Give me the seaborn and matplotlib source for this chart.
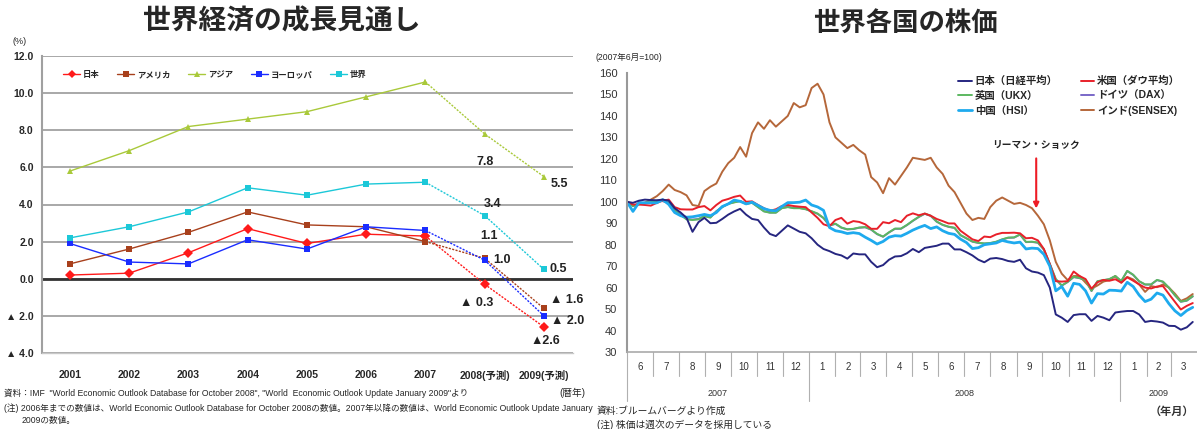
import matplotlib
matplotlib.use("Agg")
import matplotlib.pyplot as plt
import matplotlib.dates as mdates
import matplotlib.transforms as mtransforms
from matplotlib.lines import Line2D
import seaborn as sns
import pandas as pd
import numpy as np

sns.set_style("white")
plt.rcParams['font.family'] = ['Liberation Sans', 'Noto Sans CJK JP', 'DejaVu Sans']

W, H = 1197, 429

# ---- left: growth outlook ----
years = ["2001", "2002", "2003", "2004", "2005", "2006", "2007", "2008(予測)", "2009(予測)"]
regions = ["日本", "アメリカ", "アジア", "ヨーロッパ", "世界"]
japan = [0.2, 0.3, 1.4, 2.7, 1.9, 2.4, 2.3, -0.3, -2.6]
usa = [0.8, 1.6, 2.5, 3.6, 2.9, 2.8, 2.0, 1.1, -1.6]
asia = [5.8, 6.9, 8.2, 8.6, 9.0, 9.8, 10.6, 7.8, 5.5]
europe = [1.9, 0.9, 0.8, 2.1, 1.6, 2.8, 2.6, 1.0, -2.0]
world = [2.2, 2.8, 3.6, 4.9, 4.5, 5.1, 5.2, 3.4, 0.5]
region_colors = ["#ff1a1a", "#a8401c", "#a9c93a", "#1a2cff", "#1cc8d8"]
region_markers = ["D", "s", "^", "s", "s"]
forecast_labels = ["7.8", "3.4", "1.1", "1.0", "▲ 0.3", "5.5", "0.5", "▲ 1.6", "▲ 2.0", "▲2.6"]
label_x = [7.0, 7.13, 7.08, 7.30, 6.86, 8.26, 8.24, 8.38, 8.40, 8.03]
label_y = [6.31, 4.03, 2.28, 1.0, -1.31, 5.13, 0.51, -1.15, -2.28, -3.36]
y_ticks = [12, 10, 8, 6, 4, 2, 0, -2, -4]
y_tick_labels = ["12.0", "10.0", "8.0", "6.0", "4.0", "2.0", "0.0", "▲ 2.0", "▲ 4.0"]

# ---- right: stock prices (2007/6 = 100, weekly) ----
weeks = pd.date_range("2007-06-01", periods=96, freq="7D")
nikkei = [100, 99.5, 100.5, 101, 100.8, 100.7, 101, 100.5, 97, 95, 92.5, 86, 90.5, 92.5, 90, 90.2,
          92, 94, 95.5, 96.7, 94, 92, 91.5, 88, 85, 84, 86.5, 89, 87.5, 86, 85.3, 83,
          80, 78, 77, 75.7, 75, 73.5, 75.9, 75.5, 75.5, 72, 69.5, 70.5, 73, 74.5, 74.7, 76,
          78, 76.5, 78.5, 79, 79.5, 80.5, 80.5, 77.8, 77.8, 76.5, 75, 73, 71.8, 73.5, 73.8, 73.3,
          72.4, 72, 73, 69, 67.5, 67, 65.8, 60, 47.5, 46, 44, 47.2, 47.6, 47.6, 44.5, 46.8,
          46, 44.8, 48.4, 48.8, 49.1, 49.1, 47.5, 44, 44.5, 44.2, 43.7, 42.2, 42.1, 40.4, 41.5, 44]
dow = [100, 98.7, 98.7, 98.5, 98.2, 99.5, 100.5, 101, 97.5, 96.5, 96.4, 96.4, 97.5, 98, 96, 98.5,
       100.5, 101.3, 102.3, 102.9, 100, 100.2, 98.5, 97, 95.8, 96.5, 98, 98.5, 98, 97.7, 97.5, 95,
       92.5, 89.5, 88.6, 91.5, 92.5, 89.8, 91, 90.6, 89.5, 87.4, 87.4, 90.5, 90, 91.5, 90.5, 93.5,
       94.6, 93.7, 94.5, 93.5, 92, 91, 89.9, 89.9, 86.5, 84.5, 82.5, 81.7, 83.8, 83.5, 84.8, 85.5,
       85.5, 85.6, 85.3, 83, 83.2, 82, 78, 71, 63, 62.8, 63, 67.5, 65.4, 64, 59.5, 62.5,
       63.6, 63.2, 63.9, 62.3, 64.8, 63.2, 61.5, 60, 59.6, 60.5, 60.7, 57, 53.4, 49.8, 51.5, 52.8]
ukx = [100, 98, 99, 99.5, 99.8, 100.5, 100.5, 99.5, 96, 93.8, 91.8, 91.5, 91.8, 93.3, 92.6, 95.5,
       97.5, 99, 99.7, 100.3, 99, 99.5, 97.5, 95.5, 94.9, 94.9, 97, 97.5, 97, 97, 96.5, 95.6,
       94.5, 92.5, 89, 89.8, 88, 87.2, 87.4, 88, 88.2, 87.1, 85, 83.8, 85.8, 87.5, 87.5, 89.2,
       91.2, 93, 94.5, 93.5, 90.8, 89.3, 88.4, 87.9, 84.5, 83, 81.5, 80.9, 80.6, 80.8, 81.4, 82.5,
       83.3, 83.4, 84.8, 81.3, 81.4, 81, 77.8, 71, 64, 61, 62.7, 65, 64.5, 63.5, 58.5, 63,
       63.5, 64, 65.4, 63.1, 67.8, 66, 63, 61.5, 61.5, 63.6, 62.8, 60, 56.5, 53.5, 54, 56]
dax = [100, 98.2, 99.2, 99.6, 100, 100.4, 100.3, 99.3, 96.2, 94, 92, 91.7, 92, 93.4, 92.8, 95.6,
       97.6, 99.1, 99.8, 100.4, 99.1, 99.6, 97.6, 95.6, 95, 95, 97.1, 97.6, 97.1, 97.1, 96.6, 95.5,
       94.4, 92.4, 88.9, 89.7, 87.9, 87.1, 87.3, 87.9, 88.1, 87, 84.9, 83.7, 85.7, 87.4, 87.4, 89.1,
       91.1, 92.9, 94.4, 93.4, 90.7, 89.2, 88.3, 87.8, 84.4, 82.9, 81.4, 80.8, 80.5, 80.7, 81.3, 82.4,
       83.2, 83.3, 84.7, 81.2, 81.3, 80.9, 77.7, 70.9, 63.9, 60.9, 62.6, 64.9, 64.4, 63.4, 58.4, 62.9,
       63.4, 63.9, 65.3, 63, 67.7, 65.9, 62.9, 61.4, 61.4, 63.5, 62.7, 59.9, 56.4, 53.4, 53.9, 55.9]
hsi = [100, 95.5, 99.6, 99.5, 99.5, 99.5, 101, 98.8, 95, 93.5, 92.8, 93, 93.5, 94.1, 93.5, 95,
       97.8, 99, 100.8, 100.2, 99, 99.8, 98.3, 96.8, 96, 95.8, 97.8, 99.6, 99.6, 99.8, 100.8, 98.5,
       97.6, 96, 88, 86.5, 86, 85.2, 85.6, 85.2, 83.5, 82, 80.3, 81.5, 83.5, 84.2, 84, 85.3,
       86.8, 88, 89, 87.5, 88.3, 86.5, 85.3, 84.8, 82.6, 81, 78.2, 78.6, 80, 80.4, 80.8, 82,
       81.3, 80.8, 81.2, 78, 78.4, 78.2, 75.5, 70, 58.5, 60.5, 56, 62, 61.5, 58.5, 52.8, 57.2,
       57, 58.8, 58.7, 58.4, 62.5, 60.5, 56.5, 53.5, 54.6, 57.5, 56.5, 52.5, 49.2, 47, 49.3, 50.8]
sensex = [100, 98, 98.8, 99.5, 101, 102.6, 105, 108, 105.5, 104.5, 103, 98.5, 98, 105, 107, 108.5,
          114, 118, 120.5, 125.5, 121, 132, 137, 134, 138, 135, 137.5, 140, 146, 144, 145, 153,
          155, 150, 137, 130, 127.5, 125, 126.5, 124, 122, 111.5, 109, 104, 111, 108, 112, 116,
          120.5, 120, 119.5, 120.5, 116, 113, 107.5, 104.5, 99.5, 94.5, 91.5, 92.5, 92, 97.5, 100.5, 102,
          100.5, 99, 99.5, 98.5, 97, 93.5, 89.5, 82, 72, 66.5, 63.5, 65.4, 65.4, 62.3, 59.5, 61,
          62.8, 63.5, 65.4, 62.3, 65, 63.8, 61.5, 58, 60.7, 60.2, 61.5, 60, 57.2, 53.8, 55, 57]
index_names = ["ドイツ（DAX）", "インド(SENSEX)", "英国（UKX）", "米国（ダウ平均）", "中国（HSI）", "日本（日経平均）"]
index_values = [dax, sensex, ukx, dow, hsi, nikkei]
index_colors = ["#7a68c8", "#b5673a", "#5cb860", "#e8202a", "#1eaaee", "#262680"]
index_widths = [1.4, 1.4, 1.4, 1.4, 2.0, 1.4]
legend_order = ["日本（日経平均）", "英国（UKX）", "中国（HSI）", "米国（ダウ平均）", "ドイツ（DAX）", "インド(SENSEX)"]
lehman_date = pd.Timestamp("2008-09-24")

fig = plt.figure(figsize=(W / 100, H / 100), dpi=100)

def fx(px):
    return px / W

def fy(py):
    return 1 - py / H

# ---------- left panel ----------
ax1 = fig.add_axes([fx(42), fy(353), fx(573) - fx(42), fy(56) - fy(353)])
growth = pd.DataFrame({
    "pos": np.tile(np.arange(len(years)), len(regions)),
    "region": np.repeat(regions, len(years)),
    "value": np.concatenate([japan, usa, asia, europe, world]),
})
mk = dict(zip(regions, region_markers))
actual = growth[growth["pos"] <= 6]
forecast = growth[growth["pos"] >= 6]
sns.lineplot(data=actual, x="pos", y="value", hue="region", style="region", hue_order=regions,
             style_order=regions, palette=region_colors, markers=mk, dashes=False, lw=1.0,
             markersize=5, markeredgewidth=0, ax=ax1, legend=False)
sns.lineplot(data=forecast, x="pos", y="value", hue="region", style="region", hue_order=regions,
             style_order=regions, palette=region_colors, markers=mk,
             dashes={r: (1.5, 1.0) for r in regions}, lw=1.0, markersize=5, markeredgewidth=0,
             ax=ax1, legend=False)
ax1.axhline(0, color="#333333", lw=2.0, zorder=1)
ax1.set_xlim(-0.47, 8.49)
ax1.set_ylim(-4, 12)
ax1.set_yticks(y_ticks)
ax1.set_yticklabels(y_tick_labels, fontsize=7.5, fontweight="bold")
ax1.set_xticks(np.arange(len(years)))
ax1.set_xticklabels(years, fontsize=7.5, fontweight="bold")
ax1.set_xticks(np.arange(0.5, len(years) - 1, 1), minor=True)
ax1.tick_params(axis="both", which="major", length=0, pad=12)
ax1.tick_params(axis="y", pad=6)
ax1.tick_params(axis="x", which="minor", length=4, color="#aaaaaa", direction="out")
ax1.yaxis.grid(True, color="#9a9a9a", lw=1.2)
ax1.set_axisbelow(True)
ax1.set_xlabel("")
ax1.set_ylabel("")
for s in ["top", "right"]:
    ax1.spines[s].set_visible(False)
ax1.spines["left"].set_color("#a0a0a0")
ax1.spines["left"].set_linewidth(1.5)
ax1.spines["bottom"].set_color("#c8c8c8")
ax1.spines["bottom"].set_linewidth(1.0)
for t, x, y in zip(forecast_labels, label_x, label_y):
    ax1.text(x, y, t, ha="center", va="center", fontsize=9, fontweight="bold", color="#222222")

handles = [Line2D([], [], color=c, marker=m, lw=1.0, ms=4, mew=0) for c, m in zip(region_colors, region_markers)]
ax1.legend(handles, regions, ncol=5, loc="center left", bbox_to_anchor=(0.04, 0.935),
           frameon=False, prop={"weight": "bold", "size": 6}, handlelength=2.0,
           columnspacing=2.2, handletextpad=0.3, borderpad=0, borderaxespad=0)

fig.text(fx(282), fy(22), "世界経済の成長見通し", ha="center", va="center", fontsize=20, fontweight="bold")
fig.text(fx(20), fy(42), "(%)", ha="center", va="center", fontsize=6.5)
fig.text(fx(572), fy(393), "(暦年)", ha="center", va="center", fontsize=7)
fig.text(fx(4), fy(393), "資料：IMF  \"World Economic Outlook Database for October 2008\", \"World  Economic Outlook Update January 2009\"より",
         ha="left", va="center", fontsize=6.2)
fig.text(fx(4), fy(408), "(注) 2006年までの数値は、World Economic Outlook Database for October 2008の数値。2007年以降の数値は、World Economic Outlook Update January",
         ha="left", va="center", fontsize=6.2)
fig.text(fx(22), fy(421), "2009の数値。", ha="left", va="center", fontsize=6.2)

# ---------- right panel ----------
ax2 = fig.add_axes([fx(627), fy(352), 1 - fx(627), fy(73) - fy(352)])
lines = {}
for name, vals, color, lw in zip(index_names, index_values, index_colors, index_widths):
    sns.lineplot(x=weeks, y=vals, color=color, lw=lw, ax=ax2)
    lines[name] = ax2.get_lines()[-1]
ax2.set_xlim(pd.Timestamp("2007-06-01"), pd.Timestamp("2009-04-01"))
ax2.set_ylim(30, 160)
ax2.set_yticks(range(30, 161, 10))
ax2.tick_params(axis="y", labelsize=8, length=3, color="#999999", labelcolor="#333333", pad=4)
ax2.set_xticks([])
ax2.set_xlabel("")
ax2.set_ylabel("")
for s in ["top", "right"]:
    ax2.spines[s].set_visible(False)
ax2.spines["left"].set_color("#999999")
ax2.spines["left"].set_linewidth(1.5)
ax2.spines["bottom"].set_color("#aaaaaa")
ax2.spines["bottom"].set_linewidth(1.2)

blend = mtransforms.blended_transform_factory(ax2.transData, ax2.transAxes)
month_starts = pd.date_range("2007-06-01", "2009-04-01", freq="MS")
for a, b in zip(month_starts[:-1], month_starts[1:]):
    mid = mdates.date2num(a) + (mdates.date2num(b) - mdates.date2num(a)) / 2
    ax2.text(mid, -0.054, str(a.month), transform=blend, ha="center", va="center", fontsize=7, color="#333333")
    long = a.month == 1 or a == month_starts[0]
    ax2.plot([mdates.date2num(a)] * 2, [0, -0.176 if long else -0.086], transform=blend,
             clip_on=False, color="#b0b0b0", lw=0.8)
for yr, a, b in [("2007", "2007-06-01", "2008-01-01"), ("2008", "2008-01-01", "2009-01-01"),
                 ("2009", "2009-01-01", "2009-04-01")]:
    mid = (mdates.date2num(pd.Timestamp(a)) + mdates.date2num(pd.Timestamp(b))) / 2
    ax2.text(mid, -0.147, yr, transform=blend, ha="center", va="center", fontsize=6.5, color="#333333")

ax2.annotate("", xy=(lehman_date, 95.6), xytext=(lehman_date, 121.5),
             arrowprops=dict(arrowstyle="-|>", color="#ee1c25", lw=1.5, mutation_scale=8))
ax2.text(lehman_date, 125.8, "リーマン・ショック", ha="center", va="center", fontsize=7, fontweight="bold", color="#222222")

ax2.legend([lines[n] for n in legend_order], legend_order, ncol=2, loc="upper left",
           bbox_to_anchor=(fx(958), fy(76)), bbox_transform=fig.transFigure, frameon=False,
           prop={"weight": "bold", "size": 7.5}, handlelength=1.3, handletextpad=0.3,
           columnspacing=2.2, labelspacing=0.45, borderpad=0, borderaxespad=0)

fig.text(fx(905), fy(24), "世界各国の株価", ha="center", va="center", fontsize=19, fontweight="bold")
fig.text(fx(596), fy(57), "(2007年6月=100)", ha="left", va="center", fontsize=6.2)
fig.text(fx(1172), fy(412), "（年月）", ha="center", va="center", fontsize=8, fontweight="bold", color="#333333")
fig.text(fx(597), fy(411), "資料:ブルームバーグより作成", ha="left", va="center", fontsize=7)
fig.text(fx(597), fy(425), "(注) 株価は週次のデータを採用している", ha="left", va="center", fontsize=7)

fig.savefig("out.png", dpi=100)
